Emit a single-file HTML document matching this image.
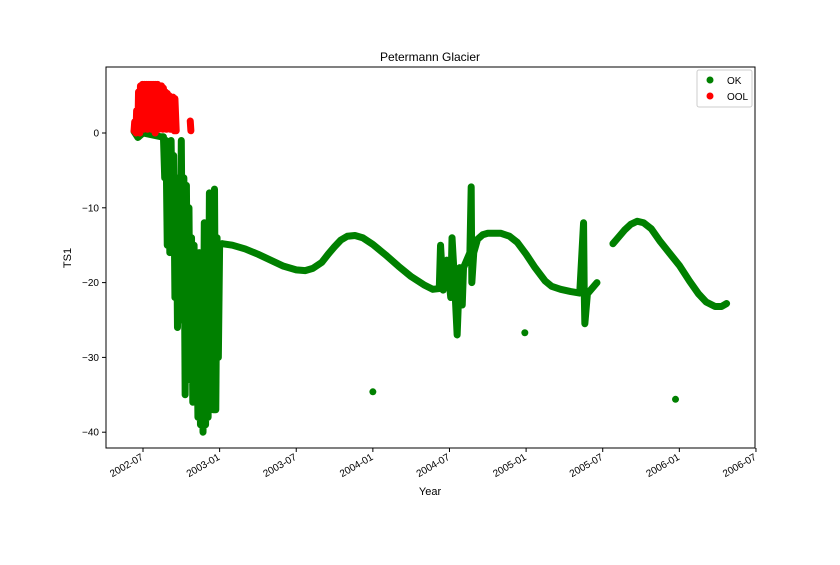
<!DOCTYPE html>
<html><head><meta charset="utf-8"><style>
body{margin:0;background:#fff;font-family:"Liberation Sans",sans-serif}
svg text{font-family:"Liberation Sans",sans-serif;fill:#000}
</style></head><body>
<svg id="chart" width="840" height="560" xmlns="http://www.w3.org/2000/svg">
<rect width="840" height="560" fill="#fff"/>
<text x="430" y="61" font-size="12" text-anchor="middle">Petermann Glacier</text>
<g id="marks"></g>
<rect x="106" y="67" width="649" height="381" fill="none" stroke="#000" stroke-width="1"/>
<g id="axes"></g>
<text x="430" y="495" font-size="11" text-anchor="middle">Year</text>
<text transform="translate(71,258) rotate(-90)" font-size="11" text-anchor="middle">TS1</text>
<g>
<rect x="697" y="70" width="55" height="37" rx="2" fill="#fff" stroke="#ccc"/>
<g><circle cx="710" cy="80" r="3.5" fill="#008000"/><text x="727" y="84" font-size="10">OK</text></g>
<g><circle cx="710" cy="96" r="3.5" fill="#ff0000"/><text x="727" y="100" font-size="10">OOL</text></g>
</g>
</svg>
<script>
// t = months since 2002-01, v = TS1
const xTickT=[6,12,18,24,30,36,42,48,54];
const xTickLabels=["2002-07","2003-01","2003-07","2004-01","2004-07","2005-01","2005-07","2006-01","2006-07"];
const yTicks=[0,-10,-20,-30,-40];
const okEarly=[[5.3,0.2],[5.6,-0.6],[6,0],[7.4,-0.5],[7.6,-0.5],[7.7,-6],[7.8,-1],[7.9,-15],[8.0,-2],[8.1,-16],[8.2,-1],[8.3,-13],[8.4,-3],[8.5,-22],[8.6,-6],[8.7,-26],[8.8,-9],[8.9,-25],[9.0,-1],[9.1,-24],[9.2,-6],[9.3,-35],[9.4,-7],[9.5,-30],[9.6,-10],[9.7,-33],[9.8,-14],[9.9,-36],[10.0,-15],[10.1,-34],[10.2,-20],[10.3,-38],[10.4,-16],[10.5,-39],[10.6,-23],[10.7,-40],[10.8,-12],[10.9,-39],[11.0,-20],[11.1,-38],[11.2,-8],[11.3,-36],[11.4,-14],[11.5,-37],[11.6,-7.5],[11.7,-37],[11.8,-14],[11.9,-30],[12.0,-15],[12.2,-14.8]];
const okMain=[[12.2,-14.8],[13,-15],[14,-15.5],[15,-16.2],[16,-17],[17,-17.8],[18,-18.3],[18.7,-18.4],[19.3,-18.1],[20,-17.3],[20.5,-16.2],[21,-15.2],[21.5,-14.3],[22,-13.8],[22.6,-13.7],[23.2,-14],[24,-14.9],[25,-16.3],[26,-17.8],[27,-19.2],[28,-20.3],[28.7,-20.9],[29.2,-20.8],[29.3,-15],[29.5,-21],[29.8,-17],[30.1,-22],[30.2,-14],[30.4,-20],[30.6,-27],[30.8,-18],[31.0,-23],[31.1,-18],[31.6,-16],[31.7,-7.2],[31.75,-20],[31.9,-16],[32.2,-14.2],[32.6,-13.6],[33,-13.4],[34,-13.4],[34.7,-13.8],[35.3,-14.6],[36,-16.2],[36.7,-18],[37.5,-19.8],[38,-20.5],[38.7,-20.9],[39.5,-21.2],[40.2,-21.4],[40.5,-12],[40.55,-21],[40.6,-25.5],[40.8,-21.5],[41.55,-20]];
const okLate=[[42.8,-14.8],[43.2,-14],[43.7,-13],[44.2,-12.2],[44.7,-11.8],[45.2,-12],[45.8,-12.8],[46.5,-14.5],[47.2,-16],[48,-17.7],[48.8,-19.8],[49.5,-21.5],[50.1,-22.6],[50.8,-23.2],[51.3,-23.2],[51.7,-22.8]];
const okOutliers=[[24,-34.6],[35.9,-26.7],[47.7,-35.6]];
const oolPts=[[5.3,0.3],[5.35,1.5],[5.45,0],[5.5,3],[5.6,0.5],[5.65,5.5],[5.75,0],[5.8,6.3],[5.9,1],[5.95,6.5],[6.05,0.5],[6.1,6.5],[6.2,1.5],[6.25,6.5],[6.35,0.5],[6.4,6.5],[6.5,1],[6.55,6.5],[6.65,0.5],[6.7,6.5],[6.8,1],[6.85,6.5],[6.95,0],[7.0,6.5],[7.1,0.5],[7.15,6.5],[7.25,0.5],[7.3,6.3],[7.4,1],[7.45,6.3],[7.55,0.5],[7.6,6],[7.7,1],[7.75,5.5],[7.85,0.5],[7.9,5.3],[8.0,1],[8.05,5],[8.15,0.5],[8.2,4.8],[8.3,0.5],[8.35,4.8],[8.45,0.3],[8.5,4.6],[8.6,0.3]];
const oolLate=[[9.7,1.6],[9.75,0.3]];
const X=t=>143+(t-6)*12.77, Y=v=>133-v*7.48;
const NS="http://www.w3.org/2000/svg";
const marks=document.getElementById('marks'), axes=document.getElementById('axes');
function line(pts,color,name){const p=document.createElementNS(NS,'polyline');
p.setAttribute('points',pts.map(d=>X(d[0])+','+Y(d[1])).join(' '));
p.setAttribute('fill','none');p.setAttribute('stroke',color);p.setAttribute('stroke-width','7');
p.setAttribute('stroke-linejoin','round');p.setAttribute('stroke-linecap','round');


marks.appendChild(p);}
function dots(pts,color,name){pts.forEach(d=>{const c=document.createElementNS(NS,'circle');
c.setAttribute('cx',X(d[0]));c.setAttribute('cy',Y(d[1]));c.setAttribute('r','3.5');c.setAttribute('fill',color);


marks.appendChild(c);});}
line(okEarly,'#008000','ok-series-early');line(okMain,'#008000','ok-series-main');line(okLate,'#008000','ok-series-late');
dots(okOutliers,'#008000','ok-outlier');
line(oolPts,'#ff0000','ool-series');line(oolLate,'#ff0000','ool-series-late');
xTickT.forEach((t,i)=>{const x=X(t);
const l=document.createElementNS(NS,'line');l.setAttribute('x1',x);l.setAttribute('x2',x);l.setAttribute('y1',448);l.setAttribute('y2',452);l.setAttribute('stroke','#000');


axes.appendChild(l);
const tx=document.createElementNS(NS,'text');tx.setAttribute('transform',`translate(${x+1},${459}) rotate(-30)`);tx.setAttribute('text-anchor','end');tx.setAttribute('font-size','10');tx.textContent=xTickLabels[i];


axes.appendChild(tx);});
yTicks.forEach(v=>{const y=Y(v);
const l=document.createElementNS(NS,'line');l.setAttribute('x1',102);l.setAttribute('x2',106);l.setAttribute('y1',y);l.setAttribute('y2',y);l.setAttribute('stroke','#000');


axes.appendChild(l);
const tx=document.createElementNS(NS,'text');tx.setAttribute('x',99);tx.setAttribute('y',y+3.5);tx.setAttribute('text-anchor','end');tx.setAttribute('font-size','10');tx.textContent=v===0?'0':'−'+Math.abs(v);


axes.appendChild(tx);});
</script>
</body></html>
